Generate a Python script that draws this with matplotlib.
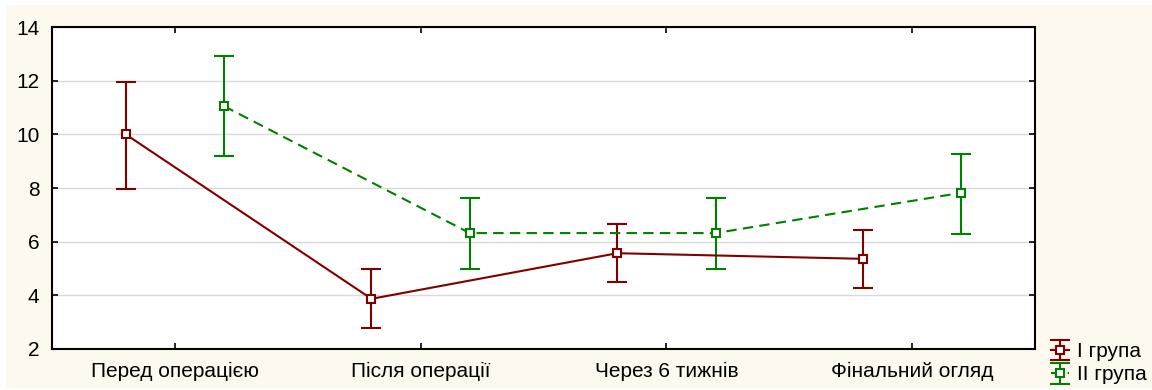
import matplotlib
matplotlib.use("Agg")
import matplotlib.pyplot as plt
import numpy as np
from matplotlib.patches import Rectangle

plt.rcParams['font.family'] = ['Liberation Sans', 'DejaVu Sans']

categories = ["Перед операцією", "Після операції", "Через 6 тижнів", "Фінальний огляд"]
series_names = ["I група", "II група"]
g1_mean = [10.0, 3.87, 5.57, 5.36]
g1_low = [7.97, 2.79, 4.50, 4.26]
g1_high = [11.95, 5.00, 6.64, 6.45]
g2_mean = [11.05, 6.32, 6.32, 7.82]
g2_low = [9.20, 5.00, 5.00, 6.30]
g2_high = [12.92, 7.62, 7.62, 9.25]
yticks = [2, 4, 6, 8, 10, 12, 14]

W, H = 1152, 390
fig = plt.figure(figsize=(W / 100, H / 100), dpi=100, facecolor='white')
bg = Rectangle((6 / W, 2 / H), 1 - 6 / W, 383 / H, transform=fig.transFigure,
               facecolor='#fef9ee', edgecolor='none', zorder=-10)
fig.patches.append(bg)

left, right, top, bottom = 52, 1035, 27, 349
ax = fig.add_axes([left / W, 1 - bottom / H, (right - left) / W, (bottom - top) / H])
ax.set_zorder(5)
ax.set_facecolor('white')

x = np.arange(len(categories))
off = 0.2

m1 = np.array(g1_mean)
e1 = np.vstack([m1 - np.array(g1_low), np.array(g1_high) - m1])
m2 = np.array(g2_mean)
e2 = np.vstack([m2 - np.array(g2_low), np.array(g2_high) - m2])

ax.errorbar(x - off, m1, yerr=e1,
            color='#800000', ls='-', lw=1.5, marker='s', ms=6, mfc='white', mec='#800000', mew=1.5,
            capsize=7, capthick=1.5, elinewidth=1.5, label=series_names[0], zorder=3)
ax.errorbar(x + off, m2, yerr=e2,
            color='#008000', ls=(0, (5, 3)), lw=1.5, marker='s', ms=6, mfc='white', mec='#008000', mew=1.5,
            capsize=7, capthick=1.5, elinewidth=1.5, label=series_names[1], zorder=3)

ax.set_xlim(-0.5, len(categories) - 0.5)
ax.set_ylim(2, 14)
ax.set_yticks(yticks)
ax.set_xticks(x)
ax.set_xticklabels(categories)
ax.yaxis.grid(True, color='#d9d9d9', lw=1)
ax.set_axisbelow(True)
ax.tick_params(direction='in', length=4, width=1.2, labelsize=15, top=True, right=True,
               labeltop=False, labelright=False, colors='black')
ax.tick_params(axis='x', pad=9)
ax.tick_params(axis='y', pad=9)
for s in ax.spines.values():
    s.set_linewidth(1.5)
    s.set_color('black')

leg = fig.legend(loc='lower left', bbox_to_anchor=(1036 / W, -9 / H), frameon=False,
                 fontsize=15, handlelength=0.9, handletextpad=0.35, labelspacing=0.2,
                 borderpad=0.2)

fig.savefig('out.png', dpi=100, facecolor=fig.get_facecolor())
